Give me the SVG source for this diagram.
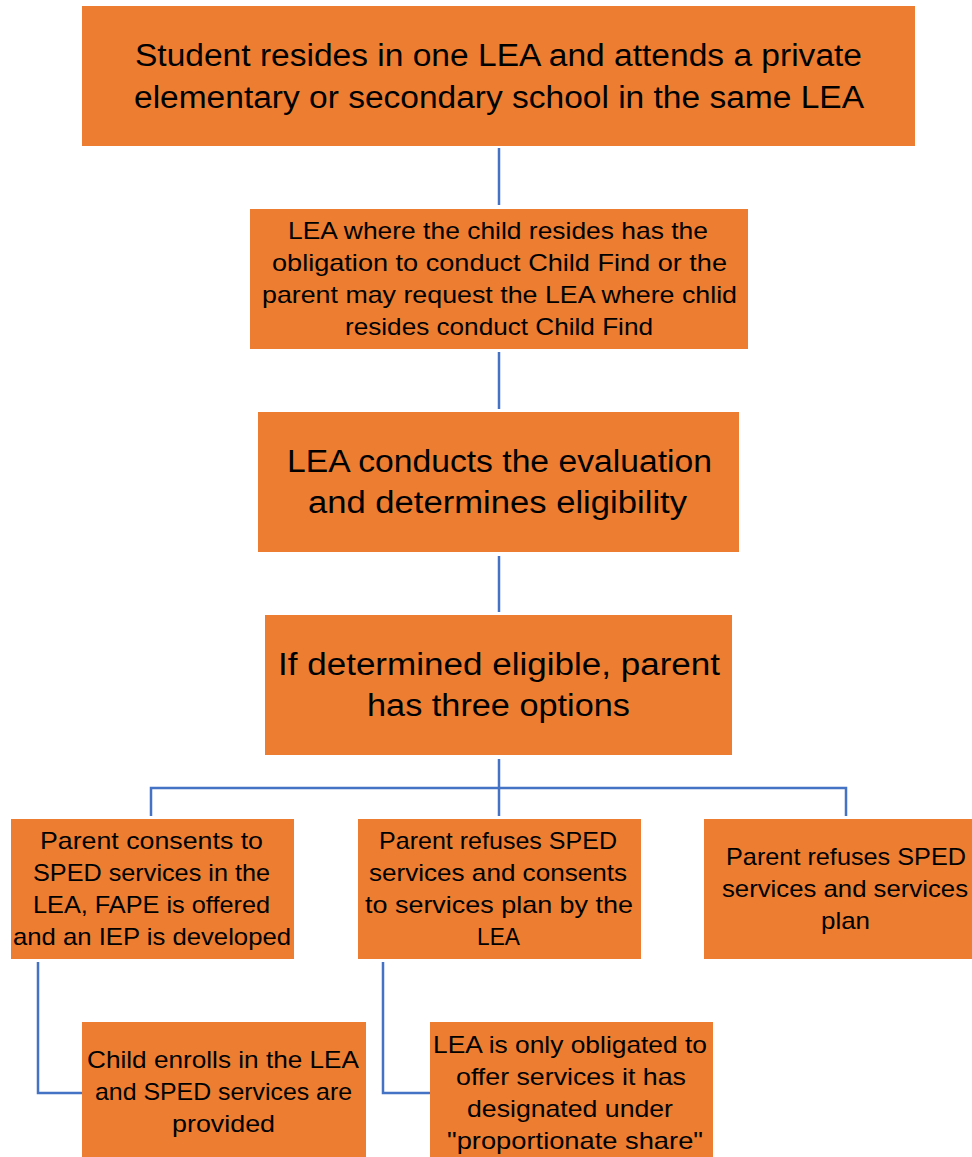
<svg xmlns="http://www.w3.org/2000/svg" width="972" height="1157" viewBox="0 0 972 1157">
<style>
.box{fill:#ED7D31;}
.t{font-family:"Liberation Sans",Arial,sans-serif;fill:#000;text-anchor:middle;}
.big{font-size:31px;}
.sm{font-size:24px;}
.c{fill:none;stroke:#4472C4;stroke-width:2.5;}
</style>
<rect width="972" height="1157" fill="#fff"/>
<g id="connectors">
<path class="c" d="M499,148 V205"/>
<path class="c" d="M499,352 V409"/>
<path class="c" d="M499,556 V612"/>
<path class="c" d="M499,759 V816"/>
<path class="c" d="M151,816 V788 H846 V816"/>
<path class="c" d="M38,962 V1093 H82"/>
<path class="c" d="M383,962 V1093 H430"/>
</g>
<g id="n1">
<rect class="box" x="82" y="6" width="833" height="140"/>
<text class="t big" x="498.5" y="66" textLength="727" lengthAdjust="spacingAndGlyphs">Student resides in one LEA and attends a private</text>
<text class="t big" x="499" y="108" textLength="730" lengthAdjust="spacingAndGlyphs">elementary or secondary school in the same LEA</text>
</g>
<g id="n2">
<rect class="box" x="250" y="209" width="498" height="140"/>
<text class="t sm" x="498" y="239" textLength="420" lengthAdjust="spacingAndGlyphs">LEA where the child resides has the</text>
<text class="t sm" x="499.5" y="271" textLength="455" lengthAdjust="spacingAndGlyphs">obligation to conduct Child Find or the</text>
<text class="t sm" x="499.5" y="303" textLength="475" lengthAdjust="spacingAndGlyphs">parent may request the LEA where chlid</text>
<text class="t sm" x="499" y="335" textLength="308" lengthAdjust="spacingAndGlyphs">resides conduct Child Find</text>
</g>
<g id="n3">
<rect class="box" x="258" y="412" width="481" height="140"/>
<text class="t big" x="499.5" y="472" textLength="425" lengthAdjust="spacingAndGlyphs">LEA conducts the evaluation</text>
<text class="t big" x="497.5" y="513" textLength="379" lengthAdjust="spacingAndGlyphs">and determines eligibility</text>
</g>
<g id="n4">
<rect class="box" x="265" y="615" width="467" height="140"/>
<text class="t big" x="499" y="675" textLength="442" lengthAdjust="spacingAndGlyphs">If determined eligible, parent</text>
<text class="t big" x="498.5" y="716" textLength="263" lengthAdjust="spacingAndGlyphs">has three options</text>
</g>
<g id="n5">
<rect class="box" x="11" y="819" width="283" height="140"/>
<text class="t sm" x="151.5" y="849" textLength="223" lengthAdjust="spacingAndGlyphs">Parent consents to</text>
<text class="t sm" x="151.5" y="881" textLength="237" lengthAdjust="spacingAndGlyphs">SPED services in the</text>
<text class="t sm" x="151.5" y="913" textLength="237" lengthAdjust="spacingAndGlyphs">LEA, FAPE is offered</text>
<text class="t sm" x="152" y="945" textLength="278" lengthAdjust="spacingAndGlyphs">and an IEP is developed</text>
</g>
<g id="n6">
<rect class="box" x="358" y="819" width="283" height="140"/>
<text class="t sm" x="498" y="849" textLength="238" lengthAdjust="spacingAndGlyphs">Parent refuses SPED</text>
<text class="t sm" x="498" y="881" textLength="258" lengthAdjust="spacingAndGlyphs">services and consents</text>
<text class="t sm" x="499" y="913" textLength="268" lengthAdjust="spacingAndGlyphs">to services plan by the</text>
<text class="t sm" x="498.5" y="945" textLength="43" lengthAdjust="spacingAndGlyphs">LEA</text>
</g>
<g id="n7">
<rect class="box" x="704" y="819" width="268" height="140"/>
<text class="t sm" x="846" y="865" textLength="240" lengthAdjust="spacingAndGlyphs">Parent refuses SPED</text>
<text class="t sm" x="845" y="897" textLength="246" lengthAdjust="spacingAndGlyphs">services and services</text>
<text class="t sm" x="845.5" y="929" textLength="49" lengthAdjust="spacingAndGlyphs">plan</text>
</g>
<g id="n8">
<rect class="box" x="82" y="1022" width="284" height="135"/>
<text class="t sm" x="223" y="1068" textLength="272" lengthAdjust="spacingAndGlyphs">Child enrolls in the LEA</text>
<text class="t sm" x="223.5" y="1100" textLength="257" lengthAdjust="spacingAndGlyphs">and SPED services are</text>
<text class="t sm" x="223.5" y="1132" textLength="103" lengthAdjust="spacingAndGlyphs">provided</text>
</g>
<g id="n9">
<rect class="box" x="430" y="1022" width="283" height="135"/>
<text class="t sm" x="570" y="1053" textLength="274" lengthAdjust="spacingAndGlyphs">LEA is only obligated to</text>
<text class="t sm" x="571" y="1085" textLength="230" lengthAdjust="spacingAndGlyphs">offer services it has</text>
<text class="t sm" x="570" y="1117" textLength="206" lengthAdjust="spacingAndGlyphs">designated under</text>
<text class="t sm" x="575" y="1149" textLength="256" lengthAdjust="spacingAndGlyphs">"proportionate share"</text>
</g>
</svg>
